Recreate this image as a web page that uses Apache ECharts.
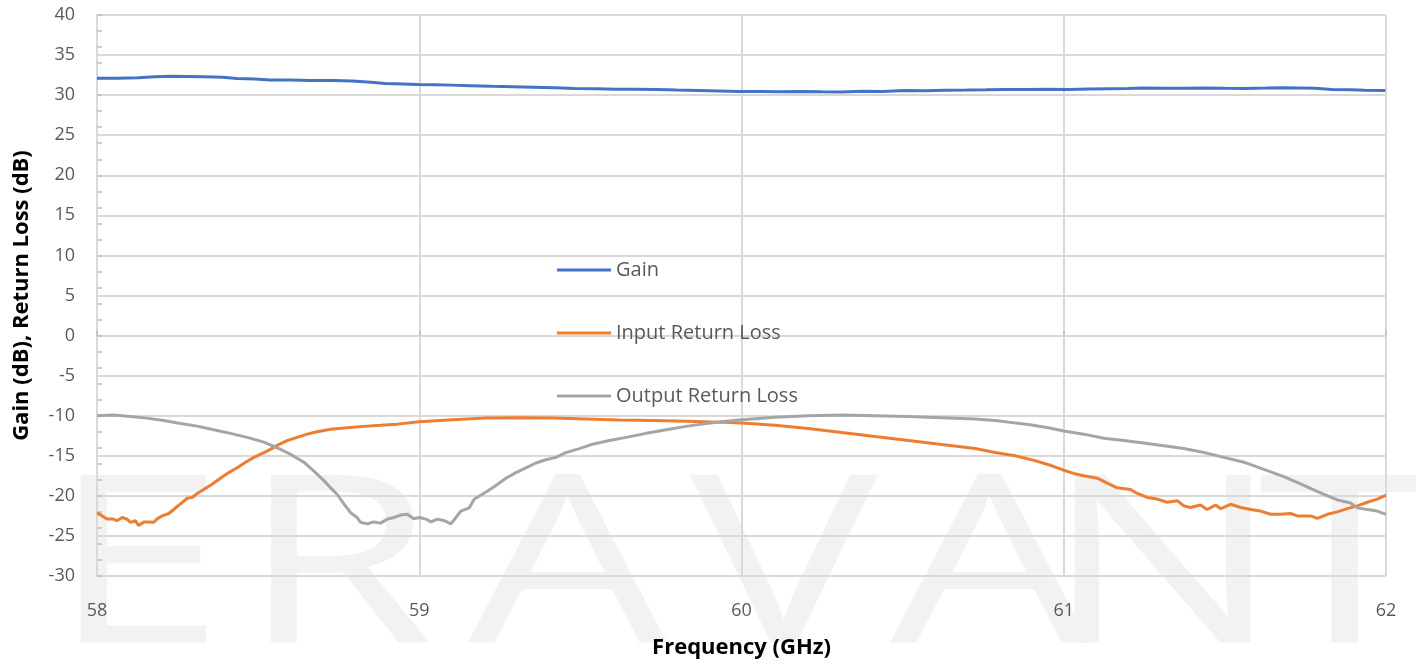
<!DOCTYPE html>
<html>
<head>
<meta charset="utf-8">
<script src="https://cdn.jsdelivr.net/npm/echarts@6/dist/echarts.min.js"></script>
<style>
html,body{margin:0;padding:0;background:#fff;}
#chart{width:1416px;height:664px;}
</style>
</head>
<body>
<div id="chart"></div>
<script>
// ---- data ----
const xTicks = [58, 59, 60, 61, 62];
const yTicks = [-30, -25, -20, -15, -10, -5, 0, 5, 10, 15, 20, 25, 30, 35, 40];

const gainFreq = [58.000,58.060,58.128,58.180,58.230,58.280,58.332,58.390,58.434,58.490,58.537,58.600,58.664,58.730,58.792,58.850,58.894,58.950,58.996,59.050,59.099,59.160,59.226,59.290,59.354,59.420,59.482,59.550,59.610,59.670,59.737,59.800,59.865,59.930,59.993,60.060,60.121,60.180,60.248,60.310,60.376,60.440,60.504,60.570,60.632,60.700,60.759,60.820,60.887,60.950,61.015,61.080,61.143,61.200,61.245,61.310,61.373,61.440,61.500,61.560,61.628,61.680,61.730,61.780,61.832,61.890,61.935,61.998];
const gainDb   = [32.10,32.12,32.17,32.28,32.37,32.34,32.30,32.22,32.08,32.00,31.90,31.88,31.83,31.82,31.75,31.62,31.46,31.40,31.33,31.30,31.25,31.18,31.10,31.06,31.00,30.92,30.83,30.80,30.75,30.74,30.70,30.63,30.58,30.52,30.46,30.44,30.42,30.45,30.42,30.40,30.50,30.46,30.58,30.56,30.62,30.64,30.66,30.70,30.70,30.72,30.70,30.76,30.80,30.84,30.88,30.86,30.85,30.88,30.85,30.84,30.88,30.92,30.90,30.86,30.70,30.66,30.62,30.58];

const inputFreq = [58.000,58.016,58.031,58.050,58.062,58.078,58.093,58.104,58.119,58.129,58.145,58.160,58.176,58.186,58.202,58.223,58.238,58.259,58.280,58.295,58.311,58.331,58.357,58.383,58.409,58.435,58.461,58.487,58.518,58.538,58.559,58.590,58.621,58.652,58.683,58.725,58.776,58.828,58.880,58.932,59.000,59.104,59.207,59.311,59.414,59.518,59.621,59.725,59.828,59.932,60.000,60.104,60.207,60.311,60.414,60.518,60.621,60.725,60.787,60.849,60.911,60.963,61.000,61.031,61.062,61.104,61.135,61.166,61.207,61.228,61.259,61.290,61.321,61.352,61.373,61.393,61.424,61.445,61.471,61.487,61.518,61.549,61.580,61.611,61.642,61.673,61.704,61.725,61.766,61.787,61.818,61.849,61.880,61.911,61.942,61.973,62.000];
const inputDb   = [-22.1,-22.5,-22.9,-22.9,-23.1,-22.7,-22.9,-23.3,-23.1,-23.7,-23.25,-23.25,-23.3,-22.9,-22.5,-22.2,-21.7,-21.0,-20.3,-20.2,-19.7,-19.2,-18.55,-17.8,-17.1,-16.5,-15.8,-15.2,-14.6,-14.2,-13.7,-13.1,-12.7,-12.3,-12.0,-11.7,-11.5,-11.33,-11.2,-11.05,-10.75,-10.5,-10.3,-10.25,-10.3,-10.4,-10.55,-10.6,-10.7,-10.8,-10.9,-11.2,-11.6,-12.1,-12.6,-13.1,-13.6,-14.1,-14.6,-15.0,-15.6,-16.25,-16.8,-17.2,-17.5,-17.8,-18.4,-19.0,-19.2,-19.7,-20.2,-20.4,-20.8,-20.6,-21.25,-21.45,-21.15,-21.7,-21.15,-21.6,-21.05,-21.45,-21.7,-21.9,-22.3,-22.3,-22.2,-22.5,-22.5,-22.8,-22.3,-22.0,-21.6,-21.25,-20.8,-20.4,-19.9];

const outputFreq = [58.000,58.052,58.104,58.155,58.207,58.259,58.311,58.362,58.414,58.466,58.518,58.559,58.600,58.642,58.673,58.704,58.725,58.745,58.766,58.787,58.807,58.818,58.839,58.859,58.880,58.901,58.921,58.942,58.963,58.983,59.000,59.021,59.036,59.057,59.078,59.098,59.114,59.129,59.155,59.171,59.192,59.212,59.238,59.269,59.300,59.331,59.362,59.393,59.424,59.455,59.497,59.538,59.590,59.642,59.704,59.766,59.828,59.890,59.952,60.000,60.104,60.207,60.311,60.414,60.518,60.621,60.725,60.787,60.828,60.890,60.952,61.000,61.062,61.124,61.186,61.248,61.311,61.373,61.435,61.497,61.559,61.621,61.683,61.745,61.807,61.849,61.890,61.911,61.942,61.973,62.000];
const outputDb   = [-10.0,-9.9,-10.1,-10.3,-10.6,-10.96,-11.3,-11.75,-12.2,-12.7,-13.3,-14.0,-14.8,-15.8,-16.9,-18.1,-19.0,-19.8,-21.0,-22.1,-22.7,-23.3,-23.5,-23.25,-23.4,-22.9,-22.7,-22.4,-22.3,-22.85,-22.7,-22.9,-23.25,-22.9,-23.1,-23.5,-22.7,-21.9,-21.5,-20.4,-19.9,-19.4,-18.7,-17.8,-17.1,-16.5,-15.9,-15.5,-15.2,-14.6,-14.1,-13.55,-13.1,-12.7,-12.2,-11.75,-11.33,-10.96,-10.7,-10.5,-10.2,-10.0,-9.9,-10.0,-10.1,-10.25,-10.4,-10.6,-10.8,-11.1,-11.5,-11.9,-12.3,-12.8,-13.1,-13.4,-13.75,-14.1,-14.6,-15.2,-15.8,-16.7,-17.6,-18.7,-19.8,-20.5,-20.9,-21.5,-21.7,-21.9,-22.3];

const seriesNames = ['Gain', 'Input Return Loss', 'Output Return Loss'];
const watermarkLetters = ['E','R','A','V','A','N','T'];

// ---- chart ----
const zip = (xs, ys) => xs.map((x, i) => [x, ys[i]]);
const chart = echarts.init(document.getElementById('chart'));
const labelFont = {color:'#595959', fontFamily:'Open Sans', fontSize:18};
const titleFont = {color:'#000', fontFamily:'Open Sans', fontWeight:'bold', fontSize:22};
const grid = {left:97, right:30, top:15, bottom:88};
const gridColor = '#d9d9d9';

const letterX = [50, 240, 468, 690, 890, 1044, 1258];
const graphics = watermarkLetters.map((ch, i) => ({
  type:'text', z:-100, silent:true,
  x:letterX[i], y:458, scaleX:1.34, scaleY:1,
  style:{text:ch, fill:'#f2f2f2', font:'normal 235px "Open Sans"', textAlign:'left', textVerticalAlign:'top'}
}));

chart.setOption({
  animation:false,
  backgroundColor:'#ffffff',
  graphic: graphics,
  grid: grid,
  legend: {
    orient:'vertical', left:552, top:255, itemGap:43,
    itemWidth:54, itemHeight:3, icon:'rect',
    textStyle:{color:'#595959', fontFamily:'Open Sans', fontSize:20},
    data: seriesNames
  },
  xAxis: {
    type:'value', min:xTicks[0], max:xTicks[xTicks.length-1], interval:1,
    name:'Frequency (GHz)', nameLocation:'middle', nameGap:61,
    nameTextStyle:titleFont,
    axisLine:{show:true, lineStyle:{color:gridColor, width:2}},
    axisTick:{show:true, inside:true, length:5, lineStyle:{color:'#bfbfbf', width:1.5}},
    axisLabel:Object.assign({margin:26}, labelFont),
    splitLine:{show:true, lineStyle:{color:gridColor, width:2}}
  },
  yAxis: [{
    type:'value', min:yTicks[0], max:yTicks[yTicks.length-1], interval:5,
    name:'Gain (dB), Return Loss (dB)', nameLocation:'middle', nameGap:64,
    nameTextStyle:titleFont,
    axisLine:{show:true, lineStyle:{color:gridColor, width:2}},
    axisTick:{show:false},
    axisLabel:Object.assign({margin:22}, labelFont),
    splitLine:{show:true, lineStyle:{color:gridColor, width:2}}
  }, {
    type:'value', min:yTicks[0], max:yTicks[yTicks.length-1], interval:2,
    position:'left', offset:0,
    axisLine:{show:false}, axisLabel:{show:false}, splitLine:{show:false},
    axisTick:{show:true, inside:true, length:5, lineStyle:{color:'#bfbfbf', width:1.5}}
  }],
  series: [
    {name:seriesNames[0], type:'line', showSymbol:false, symbol:'none', data:zip(gainFreq, gainDb),
     lineStyle:{color:'#4472C4', width:3}, itemStyle:{color:'#4472C4'}},
    {name:seriesNames[1], type:'line', showSymbol:false, symbol:'none', data:zip(inputFreq, inputDb),
     lineStyle:{color:'#ED7D31', width:3}, itemStyle:{color:'#ED7D31'}},
    {name:seriesNames[2], type:'line', showSymbol:false, symbol:'none', data:zip(outputFreq, outputDb),
     lineStyle:{color:'#A5A5A5', width:3}, itemStyle:{color:'#A5A5A5'}}
  ]
});
</script>
</body>
</html>
